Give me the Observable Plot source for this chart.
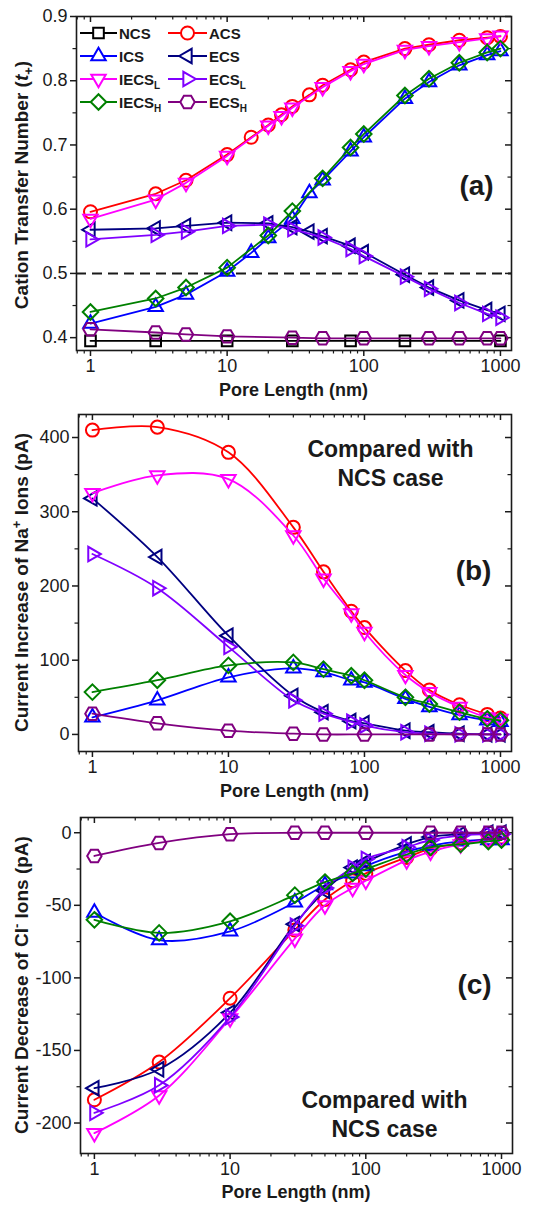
<!DOCTYPE html>
<html><head><meta charset="utf-8">
<script src="https://cdn.jsdelivr.net/npm/d3@7"></script>
<script src="https://cdn.jsdelivr.net/npm/@observablehq/plot@0.6"></script>
<style>
html,body{margin:0;padding:0;background:#fff;}
#wrap{position:relative;width:544px;height:1205px;overflow:hidden;font-family:"Liberation Sans",Arial,sans-serif;}
#wrap svg{position:absolute;left:0;}
</style></head><body><div id="wrap"></div>
<script>
// ---------- DATA ----------
const seriesNames  = ["NCS","ACS","ICS","ECS","IECS_L","ECS_L","IECS_H","ECS_H"];
const seriesColors = ["#000000","#ff0000","#0000ff","#000080","#ff00ff","#8000ff","#008000","#800080"];

const xMajor = [1,10,100,1000];
const xMinor = [0.8,0.9,2,3,4,5,6,7,8,9,20,30,40,50,60,70,80,90,200,300,400,500,600,700,800,900];

// Panel (a): cation transfer number
const xA_NCS  = [1,3,10,30,80,200,1000];
const yA_NCS  = [0.395,0.395,0.395,0.395,0.395,0.395,0.395];
const xA_ACS  = [1,3,5,10,15,20,25,30,40,50,80,100,200,300,500,800,1000];
const yA_ACS  = [0.596,0.624,0.645,0.685,0.712,0.731,0.747,0.760,0.778,0.793,0.817,0.829,0.850,0.856,0.863,0.867,0.869];
const xA_ICS  = [1,3,5,10,15,20,30,40,50,80,100,200,300,500,800,1000];
const yA_ICS  = [0.422,0.448,0.467,0.503,0.532,0.555,0.585,0.625,0.645,0.690,0.712,0.772,0.798,0.824,0.840,0.846];
const xA_ECS  = [1,3,5,10,20,30,40,50,80,100,200,300,500,800,1000];
const yA_ECS  = [0.568,0.570,0.574,0.579,0.578,0.572,0.565,0.558,0.543,0.533,0.498,0.478,0.458,0.443,0.437];
const xA_IECSL = [1,3,5,10,20,25,30,50,80,100,200,300,500,800,1000];
const yA_IECSL = [0.585,0.615,0.641,0.683,0.730,0.745,0.758,0.790,0.815,0.826,0.848,0.854,0.860,0.866,0.870];
const xA_ECSL = [1,3,5,10,20,30,50,80,100,200,300,500,800,1000];
const yA_ECSL = [0.553,0.560,0.565,0.574,0.576,0.569,0.556,0.538,0.527,0.495,0.476,0.454,0.437,0.431];
const xA_IECSH = [1,3,5,10,20,30,50,80,100,200,300,500,800,1000];
const yA_IECSH = [0.440,0.461,0.478,0.509,0.559,0.597,0.648,0.696,0.717,0.777,0.803,0.828,0.844,0.850];
const xA_ECSH = [1,3,5,10,30,50,100,300,500,800,1000];
const yA_ECSH = [0.413,0.408,0.405,0.402,0.400,0.399,0.399,0.399,0.399,0.399,0.399];

// Panel (b): current increase of Na+ ions (pA)
const xB      = [1,3,10,30,50,80,100,200,300,500,800,1000];
const yB_ACS  = [410,414,380,279,219,166,144,86,60,40,27,22];
const yB_ICS  = [23,46,77,89,84,73,70,48,37,26,19,17];
const yB_ECS  = [318,239,133,52,30,18,15,5,3,1,0,0];
const yB_IECSL = [325,349,344,268,210,163,138,80,57,37,23,21];
const yB_ECSL = [243,197,118,46,28,17,12,3,1,0,0,0];
const yB_IECSH = [57,73,93,97,88,79,73,50,41,30,21,19];
const xB_ECSH = [1,3,10,30,50,100,300,500,800,1000];
const yB_ECSH = [28,15,5,1,0,0,0,0,0,0];

// Panel (c): current decrease of Cl- ions (pA)
const xC      = [1,3,10,30,50,80,100,200,300,500,800,1000];
const yC_ACS  = [-184,-158,-114,-67,-46,-33,-28,-17,-11,-7,-4,-3];
const yC_ICS  = [-55,-74,-68,-48,-36,-28,-23,-13,-9,-6,-5,-5];
const yC_ECS  = [-176,-163,-124,-63,-40,-24,-20,-8,-3,-1,0,0];
const yC_IECSL = [-207,-181,-128,-73,-50,-38,-33,-19,-13,-8,-5,-4];
const yC_ECSL = [-193,-174,-127,-64,-38,-24,-18,-10,-5,-2,-1,-1];
const yC_IECSH = [-60,-69,-61,-43,-34,-28,-25,-15,-10,-8,-6,-5];
const xC_ECSH = [1,3,10,30,50,100,300,500,800,1000];
const yC_ECSH = [-16,-7,-1,0,0,0,0,0,0,0];

// ---------- SYMBOLS ----------
const R = s => Math.sqrt(s / Math.PI);
const symSquare = {draw(c, s){const h = R(s)*0.76; c.rect(-h,-h,2*h,2*h);}};
const symCircle = {draw(c, s){const r = R(s)*0.93; c.moveTo(r,0); c.arc(0,0,r,0,2*Math.PI);}};
const tri = (ang) => ({draw(c, s){const r = R(s)*1.19; for (let i=0;i<3;i++){const a = ang + i*2*Math.PI/3; const x = r*Math.cos(a), y = r*Math.sin(a); i?c.lineTo(x,y):c.moveTo(x,y);} c.closePath();}});
const symTriUp = tri(-Math.PI/2), symTriDown = tri(Math.PI/2), symTriLeft = tri(Math.PI), symTriRight = tri(0);
const symDiamond = {draw(c, s){const r = R(s)*1.11; c.moveTo(0,-r); c.lineTo(r,0); c.lineTo(0,r); c.lineTo(-r,0); c.closePath();}};
const symHex = {draw(c, s){const r = R(s)*1.03; for (let i=0;i<6;i++){const a = i*Math.PI/3; const x=r*Math.cos(a), y=r*Math.sin(a); i?c.lineTo(x,y):c.moveTo(x,y);} c.closePath();}};
const seriesSymbols = [symSquare, symCircle, symTriUp, symTriLeft, symTriDown, symTriRight, symDiamond, symHex];

const FONT = '"Liberation Sans", Arial, sans-serif';
const INK = "#1a1a1a";
const wrap = document.getElementById("wrap");

function panel(cfg) {
  const {top, height, mt, mb, ml, mr, yDomain, yMajor, yMinor, yFmt, series, curve, extra} = cfg;
  const fw = 544 - ml - mr, fh = height - mt - mb;
  const marks = [
    Plot.axisX({ticks: xMajor, tickSize: 6, tickPadding: 3, tickFormat: d => String(d), label: null, stroke: INK, strokeWidth: 1.5}),
    Plot.axisX({ticks: xMinor, tickSize: 3.5, tickFormat: () => "", label: null, stroke: INK, strokeWidth: 1.2}),
    Plot.axisY({ticks: yMajor, tickSize: 6, tickPadding: 3, tickFormat: yFmt, label: null, stroke: INK, strokeWidth: 1.5}),
    Plot.axisY({ticks: yMinor, tickSize: 3.5, tickFormat: () => "", label: null, stroke: INK, strokeWidth: 1.2}),
    Plot.tickX(xMajor, {x: d => d, insetBottom: fh - 6, stroke: INK, strokeWidth: 1.5}),
    Plot.tickX(xMinor, {x: d => d, insetBottom: fh - 3.5, stroke: INK, strokeWidth: 1.2}),
    Plot.tickY(yMajor, {y: d => d, insetLeft: fw - 6, stroke: INK, strokeWidth: 1.5}),
    Plot.tickY(yMinor, {y: d => d, insetLeft: fw - 3.5, stroke: INK, strokeWidth: 1.2}),
    ...(extra || [])
  ];
  series.forEach(s => {
    const data = s.x.map((x, i) => ({x, y: s.y[i]}));
    marks.push(Plot.line(data, {x: "x", y: "y", stroke: seriesColors[s.k], strokeWidth: 1.8, curve}));
    marks.push(Plot.dot(data, {x: "x", y: "y", symbol: seriesSymbols[s.k], r: 7, stroke: seriesColors[s.k], strokeWidth: 2, fill: "none"}));
  });
  marks.push(Plot.frame({stroke: INK, strokeWidth: 1.6}));
  (cfg.texts || []).forEach(t => marks.push(t));
  const svg = Plot.plot({
    width: 544, height, marginTop: mt, marginBottom: mb, marginLeft: ml, marginRight: mr,
    x: {type: "log", domain: [0.79, 1205]},
    y: {domain: yDomain},
    style: {fontFamily: FONT, fontSize: "18px", color: INK, background: "transparent", overflow: "visible"},
    marks
  });
  svg.style.top = top + "px";
  wrap.appendChild(svg);
  // x axis title
  d3.select(svg).append("text").attr("x", ml + fw/2).attr("y", height - mb + cfg.xTitleDy)
    .attr("text-anchor", "middle").attr("font-family", FONT).attr("font-weight", "bold").attr("font-size", 18).attr("fill", INK)
    .text("Pore Length (nm)");
  // y axis title
  const t = d3.select(svg).append("text")
    .attr("transform", `translate(${cfg.yTitleX},${mt + fh/2 + (cfg.yTitleShift||0)}) rotate(-90)`)
    .attr("text-anchor", "middle").attr("font-family", FONT).attr("font-weight", "bold").attr("font-size", 19).attr("fill", INK);
  cfg.yTitle.forEach(p => {
    const ts = t.append("tspan").text(p.t);
    if (p.it) ts.attr("font-style", "italic");
    if (p.dy) ts.attr("dy", p.dy);
    if (p.fs) ts.attr("font-size", p.fs);
  });
  return {svg, ml, mt, fw, fh};
}

const fmtA = d3.format(".1f");
const fmtNeg = d => (d < 0 ? "-" + Math.abs(d) : String(d));
const label = (txt, dx, dy, fs) => Plot.text([txt], {frameAnchor: "top-left", dx, dy, fontSize: fs, fontWeight: "bold", textAnchor: "middle", lineAnchor: "middle", lineHeight: 1.25, fill: INK});

// ---------- PANEL (a) ----------
const pa = panel({
  top: 0, height: 402, mt: 16, mb: 52, ml: 76, mr: 33,
  yDomain: [0.38, 0.9], yMajor: [0.4,0.5,0.6,0.7,0.8,0.9], yMinor: [0.45,0.55,0.65,0.75,0.85], yFmt: fmtA,
  curve: "linear", xTitleDy: 46, yTitleX: 28, yTitleShift: 2,
  yTitle: [{t: "Cation Transfer Number ("}, {t: "t", it: true}, {t: "+", dy: 5, fs: 13}, {t: ")", dy: -5}],
  extra: [Plot.ruleY([0.5], {stroke: INK, strokeWidth: 2, strokeDasharray: "10,6"})],
  series: [
    {k: 0, x: xA_NCS, y: yA_NCS}, {k: 1, x: xA_ACS, y: yA_ACS}, {k: 2, x: xA_ICS, y: yA_ICS}, {k: 3, x: xA_ECS, y: yA_ECS},
    {k: 4, x: xA_IECSL, y: yA_IECSL}, {k: 5, x: xA_ECSL, y: yA_ECSL}, {k: 6, x: xA_IECSH, y: yA_IECSH}, {k: 7, x: xA_ECSH, y: yA_ECSH}
  ],
  texts: [label("(a)", 476 - 76, 183 - 16, 28)]
});

// legend in panel (a)
{
  const g = d3.select(pa.svg).append("g").attr("font-family", FONT).attr("font-weight", "bold").attr("font-size", 15).attr("fill", INK).attr("text-anchor", "start");
  const rowsY = [33, 56, 79, 102];
  const cols = [{x0: 80, x1: 117, lx: 119}, {x0: 168, x1: 207, lx: 209}];
  seriesNames.forEach((name, i) => {
    const col = cols[i % 2], y = rowsY[Math.floor(i / 2)];
    g.append("line").attr("x1", col.x0).attr("x2", col.x1).attr("y1", y).attr("y2", y).attr("stroke", seriesColors[i]).attr("stroke-width", 1.8);
    const p = d3.path(); seriesSymbols[i].draw(p, 49 * Math.PI);
    g.append("path").attr("d", p.toString()).attr("transform", `translate(${(col.x0 + col.x1)/2},${y})`)
      .attr("fill", "white").attr("stroke", seriesColors[i]).attr("stroke-width", 2);
    const parts = name.split("_");
    const tx = g.append("text").attr("x", col.lx).attr("y", y + 5.5).attr("text-anchor", "start");
    tx.append("tspan").text(parts[0]);
    if (parts[1]) tx.append("tspan").text(parts[1]).attr("font-size", 10).attr("dy", 4);
  });
}

// ---------- PANEL (b) ----------
panel({
  top: 402, height: 398, mt: 12, mb: 49, ml: 78, mr: 33,
  yDomain: [-23, 431], yMajor: [0,100,200,300,400], yMinor: [50,150,250,350], yFmt: fmtNeg,
  curve: "catmull-rom", xTitleDy: 46, yTitleX: 28, yTitleShift: 0,
  yTitle: [{t: "Current Increase of Na"}, {t: "+", dy: -7, fs: 13}, {t: " Ions (pA)", dy: 7}],
  series: [
    {k: 1, x: xB, y: yB_ACS}, {k: 2, x: xB, y: yB_ICS}, {k: 3, x: xB, y: yB_ECS}, {k: 4, x: xB, y: yB_IECSL},
    {k: 5, x: xB, y: yB_ECSL}, {k: 6, x: xB, y: yB_IECSH}, {k: 7, x: xB_ECSH, y: yB_ECSH}
  ],
  texts: [
    label("(b)", 473 - 78, 568 - 414, 28),
    label("Compared with\nNCS case", 390 - 78, 462 - 414, 23)
  ]
});

// ---------- PANEL (c) ----------
panel({
  top: 800, height: 405, mt: 17, mb: 52, ml: 80, mr: 32,
  yDomain: [-221, 10.5], yMajor: [-200,-150,-100,-50,0], yMinor: [-175,-125,-75,-25], yFmt: fmtNeg,
  curve: "catmull-rom", xTitleDy: 45, yTitleX: 28, yTitleShift: 0,
  yTitle: [{t: "Current Decrease of Cl"}, {t: "-", dy: -7, fs: 13}, {t: " Ions (pA)", dy: 7}],
  series: [
    {k: 1, x: xC, y: yC_ACS}, {k: 2, x: xC, y: yC_ICS}, {k: 3, x: xC, y: yC_ECS}, {k: 4, x: xC, y: yC_IECSL},
    {k: 5, x: xC, y: yC_ECSL}, {k: 6, x: xC, y: yC_IECSH}, {k: 7, x: xC_ECSH, y: yC_ECSH}
  ],
  texts: [
    label("(c)", 474 - 80, 982 - 817, 28),
    label("Compared with\nNCS case", 384 - 80, 1113 - 817, 23)
  ]
});
</script></body></html>
